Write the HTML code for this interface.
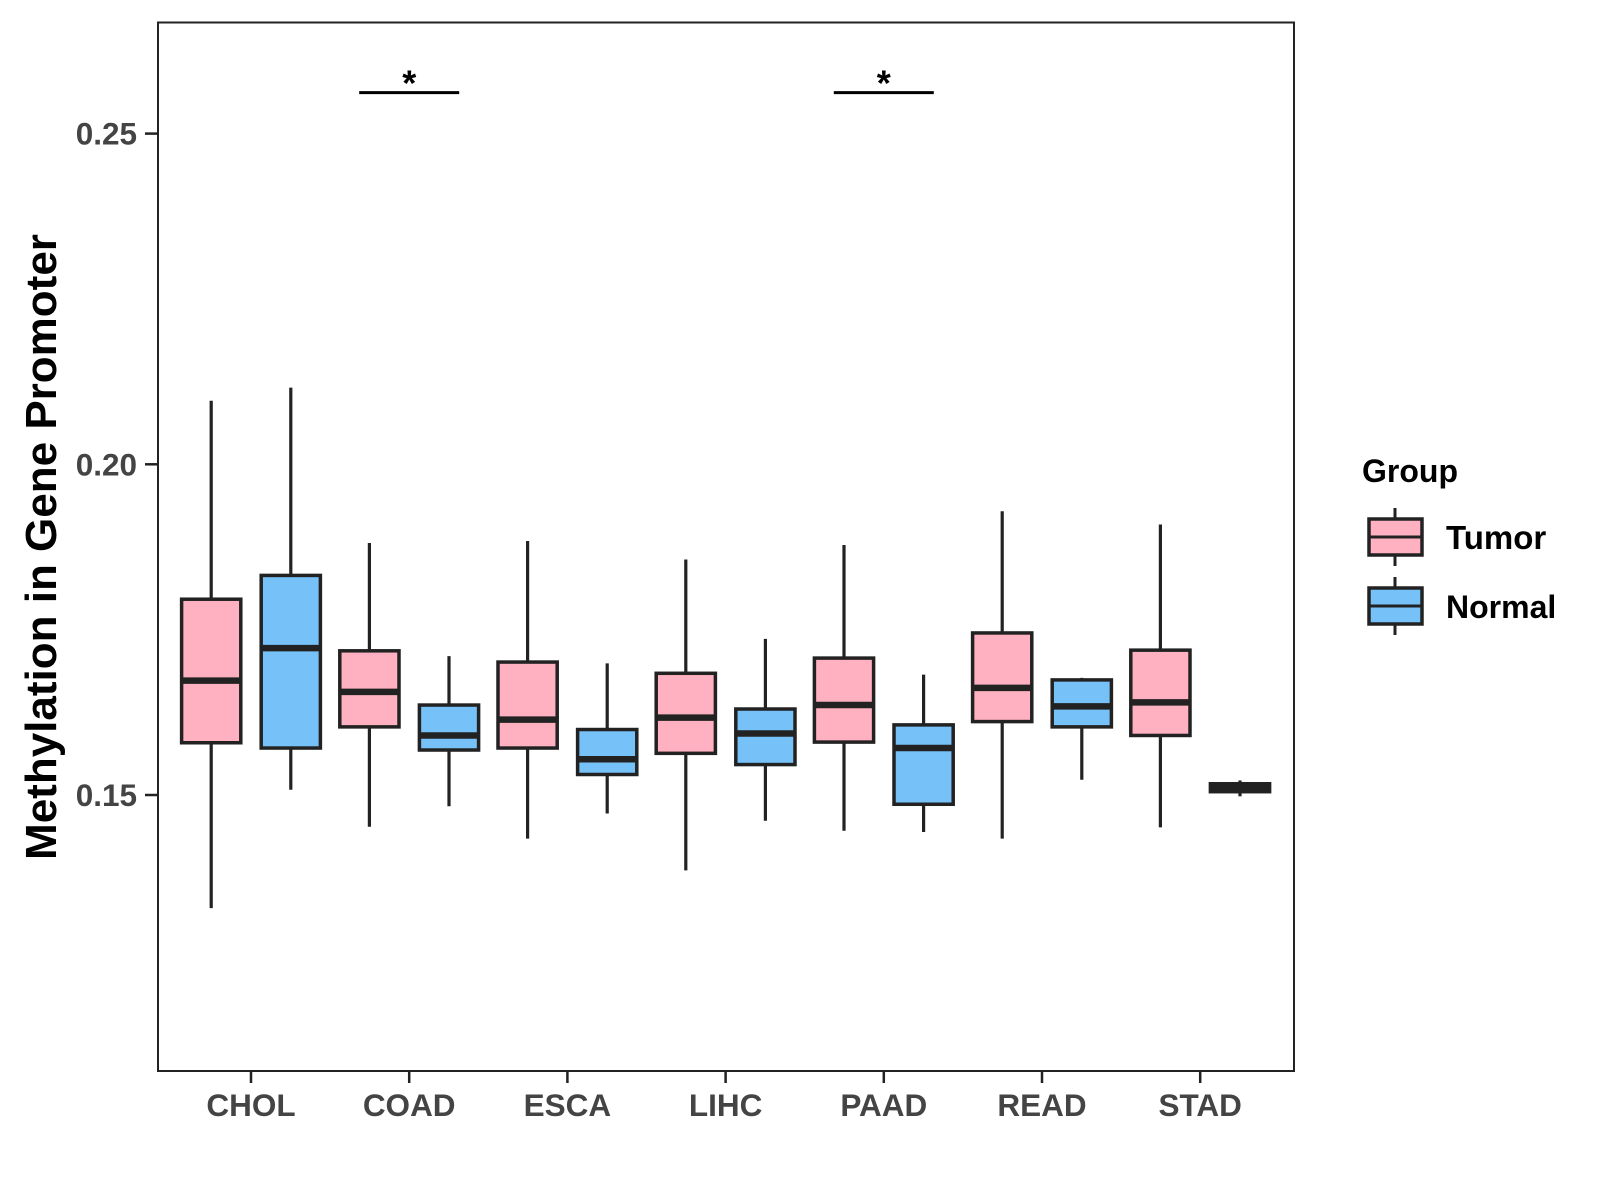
<!DOCTYPE html>
<html><head><meta charset="utf-8"><style>
body{margin:0;background:#fff;}
svg{display:block;font-family:"Liberation Sans",Arial,sans-serif;font-weight:bold;}
</style></head><body>
<svg id="chart" width="1600" height="1200" viewBox="0 0 1600 1200" xmlns="http://www.w3.org/2000/svg">
<rect x="0" y="0" width="1600" height="1200" fill="#fff"/>
<g id="plot"></g>
<rect x="158" y="22.5" width="1136" height="1048.5" fill="none" stroke="#222" stroke-width="2"/>
<text transform="translate(56,547) rotate(-90)" text-anchor="middle" font-size="44" fill="#000">Methylation in Gene Promoter</text>
<g>
<text x="1362" y="482" font-size="32" fill="#000">Group</text>
<g>
<line x1="1395" y1="508" x2="1395" y2="566" stroke="#222" stroke-width="3"/>
<rect x="1369" y="519" width="53" height="36" fill="#FFB1C1" stroke="#222" stroke-width="3.5"/>
<line x1="1369" y1="537" x2="1422" y2="537" stroke="#222" stroke-width="3"/>
<text x="1446" y="549" font-size="33" fill="#000">Tumor</text>
</g>
<g>
<line x1="1395" y1="577" x2="1395" y2="635" stroke="#222" stroke-width="3"/>
<rect x="1369" y="588" width="53" height="36" fill="#75C1F8" stroke="#222" stroke-width="3.5"/>
<line x1="1369" y1="606" x2="1422" y2="606" stroke="#222" stroke-width="3"/>
<text x="1446" y="618" font-size="32" fill="#000">Normal</text>
</g>
</g>
</svg>
<script>
const categories=["CHOL","COAD","ESCA","LIHC","PAAD","READ","STAD"];
const groups=["Tumor","Normal"];
// [lowWhisker, Q1, median, Q3, highWhisker]
const tumorStats=[[0.1329,0.1579,0.1673,0.1796,0.2096],[0.1452,0.1603,0.1656,0.1718,0.1881],[0.1434,0.1571,0.1614,0.1701,0.1884],[0.1386,0.1563,0.1617,0.1684,0.1856],[0.1446,0.1580,0.1636,0.1707,0.1878],[0.1434,0.1611,0.1662,0.1745,0.1929],[0.1451,0.1590,0.1640,0.1719,0.1909]];
const normalStats=[[0.1508,0.1571,0.1722,0.1832,0.2116],[0.1483,0.1568,0.1590,0.1636,0.1710],[0.1472,0.1531,0.1554,0.1599,0.1699],[0.1461,0.1546,0.1593,0.1630,0.1736],[0.1444,0.1486,0.1571,0.1606,0.1682],[0.1523,0.1603,0.1634,0.1674,0.1677],[0.1498,0.1505,0.1511,0.1517,0.1522]];
const yTicks=[0.15,0.20,0.25];
const yTickLabels=["0.15","0.20","0.25"];
const sigCategories=["COAD","PAAD"];
const sigLabels=["*","*"];
const sigValue=0.2562;

const NS="http://www.w3.org/2000/svg";
const g=document.getElementById("plot");
function y(v){return 795-(v-0.15)*6614;}
function x(i){return 251+i*158.2;}
const off=39.8, hw=29.6;
function el(tag,attrs,parent){const e=document.createElementNS(NS,tag);for(const k in attrs)e.setAttribute(k,attrs[k]);(parent||g).appendChild(e);return e;}

yTicks.forEach((t,i)=>{
  const tk=el("line",{x1:145,x2:158,y1:y(t),y2:y(t),stroke:"#222","stroke-width":2.5});
  
  
  const lb=el("text",{x:137,y:y(t)+11,"text-anchor":"end","font-size":31.5,fill:"#444"});
  lb.textContent=yTickLabels[i];
  
  
});
categories.forEach((c,i)=>{
  const tk=el("line",{x1:x(i),x2:x(i),y1:1071,y2:1083,stroke:"#222","stroke-width":2.5});
  
  
  const lb=el("text",{x:x(i),y:1116,"text-anchor":"middle","font-size":31.5,fill:"#444"});
  lb.textContent=c;
  
  
});
function drawBox(s,cx,fill,name){
  const bg=el("g",{});
  
  
  el("line",{x1:cx,x2:cx,y1:y(s[4]),y2:y(s[0]),stroke:"#222","stroke-width":3.2},bg);
  el("rect",{x:cx-hw,y:y(s[3]),width:2*hw,height:Math.max(y(s[1])-y(s[3]),1),fill:fill,stroke:"#222","stroke-width":3.5},bg);
  el("line",{x1:cx-hw,x2:cx+hw,y1:y(s[2]),y2:y(s[2]),stroke:"#222","stroke-width":6.5},bg);
}
categories.forEach((c,i)=>{
  drawBox(tumorStats[i],x(i)-off,"#FFB1C1","box-tumor-"+c.toLowerCase());
  drawBox(normalStats[i],x(i)+off,"#75C1F8","box-normal-"+c.toLowerCase());
});
sigCategories.forEach((c,j)=>{
  const i=categories.indexOf(c);
  const ln=el("line",{x1:x(i)-50,x2:x(i)+50,y1:y(sigValue),y2:y(sigValue),stroke:"#000","stroke-width":3});
  
  
  const t=el("text",{x:x(i),y:y(sigValue)+3,"text-anchor":"middle","font-size":36,fill:"#000"});
  t.textContent=sigLabels[j];
  
  
});
</script>
</body></html>
